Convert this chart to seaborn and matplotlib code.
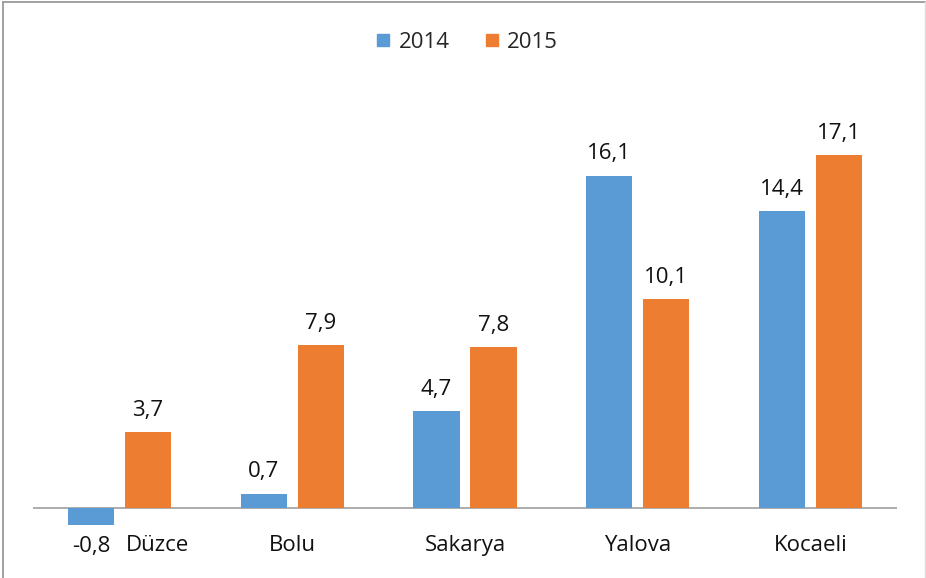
import matplotlib
matplotlib.use("Agg")
import matplotlib.pyplot as plt
from matplotlib.lines import Line2D
import pandas as pd
import seaborn as sns

# --- DATA ---
iller = ["Düzce", "Bolu", "Sakarya", "Yalova", "Kocaeli"]
yillar = ["2014", "2015"]
degerler_2014 = [-0.8, 0.7, 4.7, 16.1, 14.4]
degerler_2015 = [3.7, 7.9, 7.8, 10.1, 17.1]

renkler = {"2014": "#5B9BD5", "2015": "#ED7D31"}

df = pd.DataFrame({
    "il": iller * 2,
    "yil": ["2014"] * len(iller) + ["2015"] * len(iller),
    "deger": degerler_2014 + degerler_2015,
})

sns.set_style("white")
plt.rcParams["font.family"] = ["Open Sans", "DejaVu Sans"]

fig = plt.figure(figsize=(9.26, 5.78), dpi=100)
ax = fig.add_axes([33 / 926, 8 / 578, 864 / 926, 475 / 578])

sns.barplot(data=df, x="il", y="deger", hue="yil", hue_order=yillar,
            palette=renkler, width=0.66, gap=0.19, saturation=1,
            linewidth=0, legend=False, ax=ax)

ax.set_xlim(-0.5, 4.5)
ax.set_ylim(-3, 20)
ax.axhline(0, color="#A6A6A6", lw=1.3, zorder=0)
sns.despine(ax=ax, left=True, bottom=True, top=True, right=True)
ax.set_yticks([])
ax.set_xlabel("")
ax.set_ylabel("")
ax.tick_params(axis="x", length=0)

# kategori etiketleri sifir cizgisinin altinda
ax.set_xticks(range(len(iller)))
ax.set_xticklabels([])
for i, il in enumerate(iller):
    dx = 38 if il == "Düzce" else 0
    ax.annotate(il, xy=(i, 0), xytext=(dx * 0.72, -27), textcoords="offset points",
                ha="center", va="center", fontsize=16, color="#111111")

# deger etiketleri
for cont in ax.containers:
    ax.bar_label(cont, labels=[f"{b.get_height():.1f}".replace(".", ",") for b in cont],
                 padding=8, fontsize=16, color="#111111")

# legend
handles = [Line2D([], [], marker="s", ls="", markersize=9, color=renkler[y]) for y in yillar]
fig.legend(handles, yillar, loc="center", bbox_to_anchor=(466 / 926, 1 - 42 / 578),
           ncol=2, frameon=False, fontsize=16, handletextpad=0.3, columnspacing=1.5,
           handlelength=0.8)

# cerceve
fig.add_artist(Line2D([3 / 926, 3 / 926], [0, 1 - 2 / 578], transform=fig.transFigure, color="#9A9A9A", lw=1.3))
fig.add_artist(Line2D([3 / 926, 925 / 926], [1 - 2 / 578, 1 - 2 / 578], transform=fig.transFigure, color="#9A9A9A", lw=1.3))
fig.add_artist(Line2D([925 / 926, 925 / 926], [0, 1 - 2 / 578], transform=fig.transFigure, color="#DDDDDD", lw=1))

fig.savefig("out.png", dpi=100)
